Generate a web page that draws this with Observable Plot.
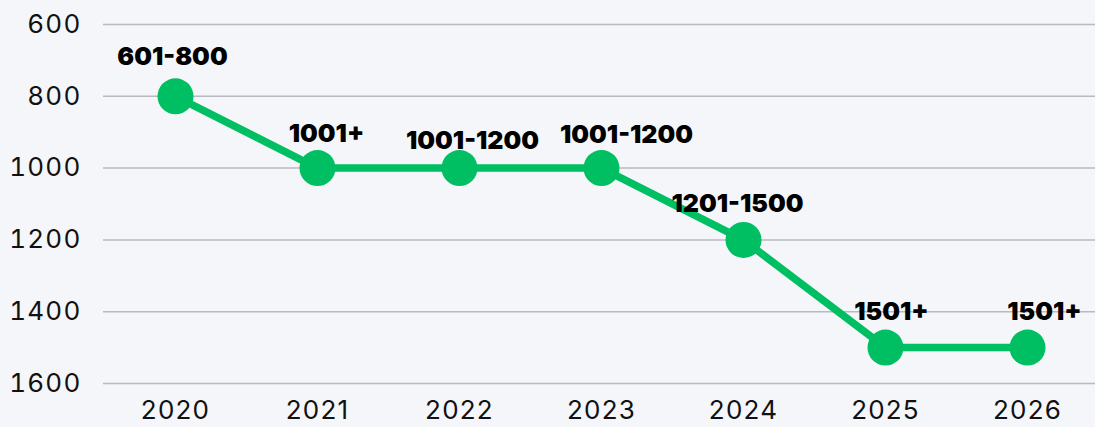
<!DOCTYPE html>
<html><head><meta charset="utf-8">
<script src="https://cdn.jsdelivr.net/npm/d3@7"></script>
<script src="https://cdn.jsdelivr.net/npm/@observablehq/plot@0.6"></script>
<style>
html,body{margin:0;padding:0;background:#f5f6fa;}
#chart svg{display:block;background:#f5f6fa;}
#chart g[aria-label="y-axis tick label"] text,
#chart g[aria-label="x-axis tick label"] text{letter-spacing:1.2px;}
</style>
</head><body><div id="chart"></div>
<script>
const years = ["2020","2021","2022","2023","2024","2025","2026"];
const ranks = [800, 1000, 1000, 1000, 1200, 1500, 1500];
const labels = ["601-800","1001+","1001-1200","1001-1200","1201-1500","1501+","1501+"];
const yTicks = [600, 800, 1000, 1200, 1400, 1600];

const data = years.map((y, i) => ({year: y, rank: ranks[i], label: labels[i]}));
const green = "#00bf63";

const labelText = (year, dx, dy) => Plot.text(data.filter(d => d.year === year), {
  x: "year", y: "rank", text: "label", dx, dy, fontSize: 25, fontWeight: 900, fill: "#000"
});

const chart = Plot.plot({
  width: 1095,
  height: 427,
  marginLeft: 103,
  marginRight: 0,
  marginTop: 24,
  marginBottom: 44,
  style: {background: "#f5f6fa", fontFamily: "Inter, sans-serif", fontSize: "26px", color: "#111"},
  x: {type: "point", domain: years, range: [174, 1028], padding: 0, label: null},
  y: {domain: [600, 1600], reverse: true, ticks: yTicks, label: null},
  marks: [
    Plot.gridY(yTicks, {stroke: "#b9b9c0", strokeOpacity: 1, strokeWidth: 1.5}),
    Plot.axisY(yTicks, {tickSize: 0, tickPadding: 22, fontSize: 26, fill: "#111", label: null, tickFormat: d => String(d)}),
    Plot.axisX({tickSize: 0, tickPadding: 17, fontSize: 26, fill: "#111", label: null}),
    Plot.line(data, {x: "year", y: "rank", stroke: green, strokeWidth: 7.5}),
    Plot.dot(data, {x: "year", y: "rank", r: 18, fill: green}),
    labelText("2020", -3, -39),
    labelText("2021", 9, -34),
    labelText("2022", 13, -27),
    labelText("2023", 25, -33),
    labelText("2024", -6, -36),
    labelText("2025", 6, -36),
    labelText("2026", 17, -36)
  ]
});
document.getElementById("chart").append(chart);
</script>
</body></html>
